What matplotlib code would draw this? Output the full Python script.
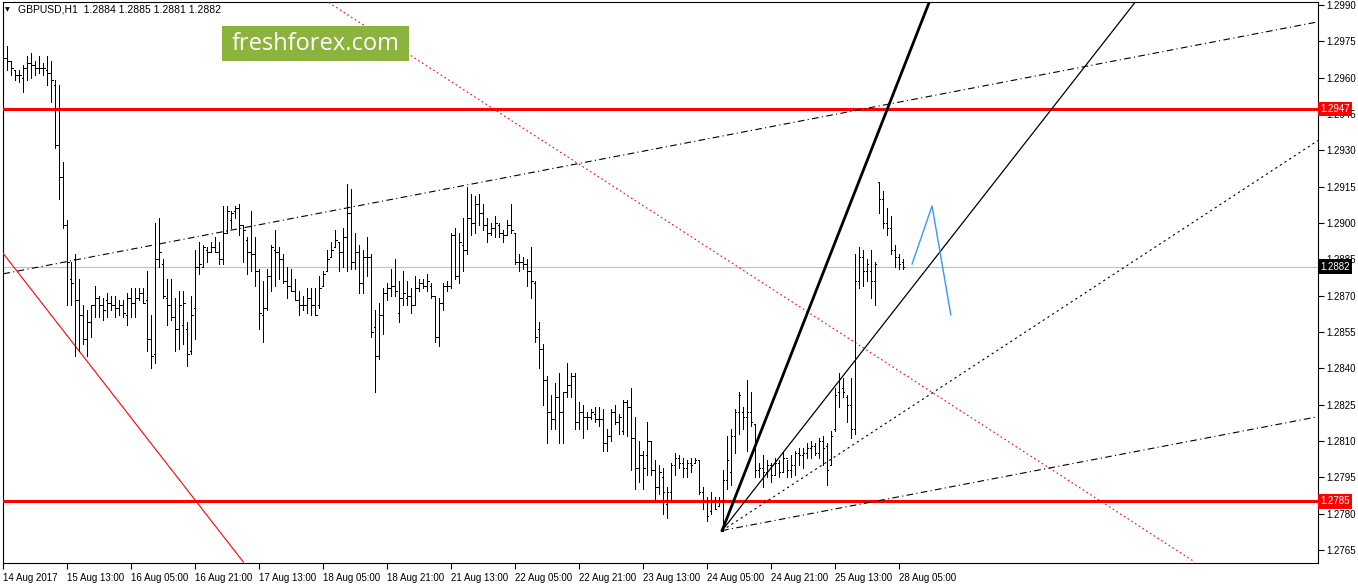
import numpy as np
import matplotlib
matplotlib.use("Agg")
import matplotlib.pyplot as plt
import matplotlib.transforms as mtransforms
from matplotlib.collections import LineCollection
from matplotlib.patches import Rectangle

plt.rcParams['font.family'] = ['Liberation Sans', 'DejaVu Sans']
plt.rcParams['font.size'] = 7

# GBPUSD H1 bars (index 0 = 14 Aug 2017)
bar_high = [
    1.2973, 1.2973, 1.2967, 1.2963, 1.2963, 1.2965, 1.2969, 1.2970, 1.2967, 1.2969,
    1.2966, 1.2969, 1.2967, 1.2959, 1.2957, 1.2925, 1.2901, 1.2884, 1.2887, 1.2877,
    1.2866, 1.2864, 1.2866, 1.2874, 1.2870, 1.2869, 1.2871, 1.2870, 1.2870, 1.2868,
    1.2868, 1.2871, 1.2873, 1.2873, 1.2873, 1.2873, 1.2880, 1.2862, 1.2900, 1.2902,
    1.2885, 1.2877, 1.2877, 1.2869, 1.2872, 1.2872, 1.2859, 1.2870, 1.2889, 1.2892,
    1.2891, 1.2890, 1.2892, 1.2894, 1.2892, 1.2907, 1.2907, 1.2905, 1.2907, 1.2908,
    1.2899, 1.2894, 1.2905, 1.2894, 1.2881, 1.2876, 1.2881, 1.2891, 1.2897, 1.2890,
    1.2887, 1.2882, 1.2881, 1.2877, 1.2872, 1.2870, 1.2873, 1.2873, 1.2873, 1.2878,
    1.2880, 1.2889, 1.2892, 1.2897, 1.2892, 1.2898, 1.2916, 1.2914, 1.2896, 1.2891,
    1.2889, 1.2894, 1.2887, 1.2864, 1.2867, 1.2873, 1.2875, 1.2881, 1.2885, 1.2876,
    1.2880, 1.2876, 1.2873, 1.2878, 1.2877, 1.2877, 1.2879, 1.2875, 1.2870, 1.2869,
    1.2875, 1.2876, 1.2896, 1.2898, 1.2896, 1.2902, 1.2915, 1.2912, 1.2911, 1.2912,
    1.2908, 1.2902, 1.2900, 1.2903, 1.2900, 1.2897, 1.2901, 1.2908, 1.2896, 1.2887,
    1.2886, 1.2885, 1.2890, 1.2876, 1.2859, 1.2850, 1.2837, 1.2829, 1.2834, 1.2838,
    1.2830, 1.2842, 1.2838, 1.2838, 1.2826, 1.2825, 1.2822, 1.2823, 1.2824, 1.2824,
    1.2823, 1.2815, 1.2823, 1.2825, 1.2821, 1.2827, 1.2827, 1.2832, 1.2820, 1.2810,
    1.2806, 1.2818, 1.2810, 1.2802, 1.2800, 1.2799, 1.2791, 1.2801, 1.2805, 1.2804,
    1.2803, 1.2802, 1.2803, 1.2803, 1.2802, 1.2791, 1.2787, 1.2789, 1.2787, 1.2787,
    1.2798, 1.2812, 1.2815, 1.2823, 1.2830, 1.2824, 1.2835, 1.2830, 1.2817, 1.2801,
    1.2804, 1.2802, 1.2801, 1.2803, 1.2802, 1.2806, 1.2802, 1.2804, 1.2806, 1.2807,
    1.2807, 1.2809, 1.2810, 1.2809, 1.2811, 1.2812, 1.2809, 1.2814, 1.2832, 1.2838,
    1.2836, 1.2829, 1.2836, 1.2887, 1.2890, 1.2889, 1.2885, 1.2889, 1.2884, 1.2917,
    1.2913, 1.2906, 1.2903, 1.2891, 1.2887, 1.2885,
]
bar_low = [
    1.2961, 1.2963, 1.2961, 1.2959, 1.2958, 1.2954, 1.2959, 1.2960, 1.2961, 1.2962,
    1.2961, 1.2957, 1.2950, 1.2931, 1.2910, 1.2898, 1.2866, 1.2866, 1.2845, 1.2847,
    1.2850, 1.2845, 1.2853, 1.2861, 1.2861, 1.2860, 1.2861, 1.2864, 1.2861, 1.2862,
    1.2861, 1.2858, 1.2861, 1.2861, 1.2868, 1.2867, 1.2847, 1.2840, 1.2842, 1.2882,
    1.2869, 1.2858, 1.2860, 1.2847, 1.2848, 1.2850, 1.2841, 1.2846, 1.2852, 1.2879,
    1.2882, 1.2884, 1.2888, 1.2888, 1.2883, 1.2883, 1.2896, 1.2898, 1.2902, 1.2895,
    1.2884, 1.2879, 1.2880, 1.2874, 1.2856, 1.2851, 1.2864, 1.2872, 1.2874, 1.2877,
    1.2875, 1.2869, 1.2872, 1.2868, 1.2862, 1.2864, 1.2863, 1.2862, 1.2862, 1.2865,
    1.2874, 1.2880, 1.2886, 1.2890, 1.2880, 1.2882, 1.2880, 1.2881, 1.2881, 1.2871,
    1.2871, 1.2878, 1.2853, 1.2830, 1.2844, 1.2854, 1.2868, 1.2870, 1.2870, 1.2859,
    1.2866, 1.2866, 1.2863, 1.2866, 1.2872, 1.2873, 1.2872, 1.2869, 1.2851, 1.2849,
    1.2864, 1.2872, 1.2873, 1.2877, 1.2875, 1.2880, 1.2887, 1.2895, 1.2896, 1.2899,
    1.2897, 1.2892, 1.2895, 1.2894, 1.2894, 1.2892, 1.2895, 1.2896, 1.2883, 1.2880,
    1.2881, 1.2874, 1.2869, 1.2851, 1.2840, 1.2825, 1.2809, 1.2815, 1.2815, 1.2809,
    1.2809, 1.2828, 1.2828, 1.2815, 1.2815, 1.2811, 1.2815, 1.2819, 1.2818, 1.2816,
    1.2806, 1.2806, 1.2810, 1.2817, 1.2813, 1.2813, 1.2812, 1.2798, 1.2790, 1.2793,
    1.2790, 1.2796, 1.2796, 1.2785, 1.2788, 1.2780, 1.2778, 1.2785, 1.2796, 1.2799,
    1.2795, 1.2795, 1.2797, 1.2801, 1.2788, 1.2782, 1.2777, 1.2780, 1.2782, 1.2783,
    1.2773, 1.2790, 1.2792, 1.2805, 1.2813, 1.2815, 1.2806, 1.2816, 1.2795, 1.2795,
    1.2791, 1.2795, 1.2793, 1.2796, 1.2795, 1.2797, 1.2795, 1.2795, 1.2796, 1.2800,
    1.2799, 1.2803, 1.2803, 1.2804, 1.2803, 1.2800, 1.2792, 1.2800, 1.2814, 1.2824,
    1.2828, 1.2818, 1.2811, 1.2813, 1.2873, 1.2874, 1.2876, 1.2869, 1.2866, 1.2904,
    1.2898, 1.2895, 1.2887, 1.2882, 1.2881, 1.2881,
]
bar_open = [
    1.2970, 1.2968, 1.2967, 1.2963, 1.2961, 1.2960, 1.2964, 1.2966, 1.2965, 1.2964,
    1.2964, 1.2963, 1.2962, 1.2957, 1.2932, 1.2919, 1.2899, 1.2877, 1.2885, 1.2868,
    1.2862, 1.2852, 1.2859, 1.2866, 1.2869, 1.2866, 1.2868, 1.2867, 1.2866, 1.2865,
    1.2866, 1.2862, 1.2869, 1.2867, 1.2869, 1.2871, 1.2868, 1.2852, 1.2846, 1.2885,
    1.2883, 1.2869, 1.2866, 1.2861, 1.2856, 1.2858, 1.2856, 1.2847, 1.2865, 1.2882,
    1.2882, 1.2889, 1.2888, 1.2890, 1.2888, 1.2885, 1.2896, 1.2901, 1.2905, 1.2906,
    1.2899, 1.2893, 1.2888, 1.2887, 1.2880, 1.2862, 1.2865, 1.2878, 1.2889, 1.2888,
    1.2885, 1.2876, 1.2874, 1.2872, 1.2868, 1.2866, 1.2866, 1.2869, 1.2866, 1.2866,
    1.2874, 1.2880, 1.2886, 1.2890, 1.2892, 1.2888, 1.2894, 1.2904, 1.2884, 1.2888,
    1.2875, 1.2886, 1.2886, 1.2857, 1.2845, 1.2862, 1.2871, 1.2873, 1.2874, 1.2863,
    1.2869, 1.2869, 1.2870, 1.2866, 1.2873, 1.2875, 1.2874, 1.2874, 1.2870, 1.2853,
    1.2867, 1.2874, 1.2874, 1.2895, 1.2878, 1.2891, 1.2889, 1.2902, 1.2900, 1.2908,
    1.2904, 1.2899, 1.2896, 1.2898, 1.2899, 1.2896, 1.2895, 1.2899, 1.2896, 1.2884,
    1.2884, 1.2883, 1.2880, 1.2875, 1.2856, 1.2848, 1.2835, 1.2822, 1.2819, 1.2828,
    1.2822, 1.2830, 1.2833, 1.2837, 1.2818, 1.2822, 1.2820, 1.2820, 1.2821, 1.2819,
    1.2819, 1.2809, 1.2812, 1.2822, 1.2818, 1.2814, 1.2826, 1.2824, 1.2811, 1.2799,
    1.2804, 1.2804, 1.2810, 1.2798, 1.2791, 1.2795, 1.2784, 1.2789, 1.2800, 1.2803,
    1.2801, 1.2799, 1.2801, 1.2801, 1.2802, 1.2789, 1.2785, 1.2781, 1.2785, 1.2783,
    1.2785, 1.2794, 1.2797, 1.2812, 1.2822, 1.2822, 1.2820, 1.2822, 1.2817, 1.2798,
    1.2799, 1.2797, 1.2800, 1.2796, 1.2801, 1.2797, 1.2803, 1.2798, 1.2800, 1.2805,
    1.2804, 1.2805, 1.2807, 1.2808, 1.2805, 1.2810, 1.2808, 1.2800, 1.2815, 1.2830,
    1.2832, 1.2828, 1.2825, 1.2815, 1.2876, 1.2886, 1.2880, 1.2880, 1.2876, 1.2917,
    1.2910, 1.2900, 1.2898, 1.2889, 1.2886, 1.2884,
]
bar_close = [
    1.2968, 1.2967, 1.2964, 1.2961, 1.2961, 1.2964, 1.2966, 1.2965, 1.2964, 1.2964,
    1.2964, 1.2962, 1.2959, 1.2932, 1.2919, 1.2899, 1.2884, 1.2875, 1.2868, 1.2862,
    1.2852, 1.2859, 1.2866, 1.2869, 1.2866, 1.2864, 1.2867, 1.2866, 1.2865, 1.2866,
    1.2863, 1.2869, 1.2867, 1.2869, 1.2871, 1.2867, 1.2852, 1.2845, 1.2885, 1.2888,
    1.2870, 1.2866, 1.2861, 1.2856, 1.2866, 1.2867, 1.2846, 1.2862, 1.2882, 1.2883,
    1.2890, 1.2888, 1.2890, 1.2888, 1.2885, 1.2896, 1.2905, 1.2904, 1.2906, 1.2899,
    1.2897, 1.2888, 1.2887, 1.2880, 1.2863, 1.2865, 1.2878, 1.2890, 1.2888, 1.2885,
    1.2876, 1.2874, 1.2872, 1.2868, 1.2866, 1.2866, 1.2869, 1.2866, 1.2862, 1.2873,
    1.2879, 1.2885, 1.2889, 1.2893, 1.2888, 1.2894, 1.2904, 1.2884, 1.2888, 1.2875,
    1.2886, 1.2886, 1.2855, 1.2845, 1.2862, 1.2871, 1.2873, 1.2874, 1.2872, 1.2869,
    1.2871, 1.2870, 1.2866, 1.2873, 1.2875, 1.2874, 1.2876, 1.2870, 1.2853, 1.2867,
    1.2874, 1.2874, 1.2895, 1.2878, 1.2892, 1.2889, 1.2902, 1.2900, 1.2908, 1.2904,
    1.2899, 1.2896, 1.2898, 1.2900, 1.2896, 1.2895, 1.2899, 1.2897, 1.2884, 1.2884,
    1.2883, 1.2880, 1.2876, 1.2853, 1.2848, 1.2835, 1.2822, 1.2819, 1.2828, 1.2822,
    1.2830, 1.2833, 1.2837, 1.2818, 1.2822, 1.2820, 1.2820, 1.2822, 1.2819, 1.2819,
    1.2809, 1.2812, 1.2822, 1.2818, 1.2820, 1.2826, 1.2824, 1.2811, 1.2799, 1.2804,
    1.2799, 1.2810, 1.2798, 1.2791, 1.2797, 1.2789, 1.2789, 1.2800, 1.2803, 1.2801,
    1.2799, 1.2801, 1.2800, 1.2802, 1.2789, 1.2785, 1.2779, 1.2785, 1.2782, 1.2785,
    1.2794, 1.2802, 1.2812, 1.2822, 1.2829, 1.2820, 1.2822, 1.2818, 1.2798, 1.2799,
    1.2797, 1.2800, 1.2796, 1.2801, 1.2797, 1.2803, 1.2798, 1.2800, 1.2805, 1.2804,
    1.2805, 1.2807, 1.2808, 1.2805, 1.2810, 1.2807, 1.2798, 1.2812, 1.2829, 1.2836,
    1.2830, 1.2825, 1.2815, 1.2876, 1.2886, 1.2880, 1.2883, 1.2876, 1.2883, 1.2910,
    1.2900, 1.2898, 1.2889, 1.2886, 1.2883, 1.2882,
]

x_tick_pos = list(range(0, 225, 16))
x_tick_labels = ["14 Aug 2017", "15 Aug 13:00", "16 Aug 05:00", "16 Aug 21:00",
                 "17 Aug 13:00", "18 Aug 05:00", "18 Aug 21:00", "21 Aug 13:00",
                 "22 Aug 05:00", "22 Aug 21:00", "23 Aug 13:00", "24 Aug 05:00",
                 "24 Aug 21:00", "25 Aug 13:00", "28 Aug 05:00"]
y_ticks = [1.2765 + 0.0015 * k for k in range(16)]

levels = [1.2947, 1.2785]
last_price = 1.2882
header = "GBPUSD,H1  1.2884 1.2885 1.2881 1.2882"

# analysis objects: (bar index, price) anchor points
pivot = (179.7, 1.2773)
fan_thick_end = (231.7, 1.2992)
fan_thin_end = (283.4, 1.2992)
fan_dotted_end = (328.7, 1.2934)
channel_top = [(0.0, 1.2879), (328.7, 1.2983)]
channel_bottom = [pivot, (328.7, 1.2820)]
red_trend = [(-0.8, 1.2889), (60.0, 1.2760)]
red_dotted = [(80.4, 1.2992), (297.9, 1.2760)]
forecast_x = [227.2, 232.2, 236.9]
forecast_y = [1.2883, 1.2907, 1.2862]

W, H = 1358, 584
fig = plt.figure(figsize=(W / 100, H / 100), dpi=100)
ax = fig.add_axes([3 / W, 1 - 563 / H, 1315 / W, 561 / H])
ax.set_xlim(-0.1, 328.7)
ax.set_ylim(1.27596, 1.29912)

# OHLC bars, 1px wide with short open/close ticks
idx = np.arange(len(bar_high))
segs = []
for i in idx:
    segs.append([(i, bar_low[i]), (i, bar_high[i])])
    segs.append([(i - 0.3, bar_open[i]), (i, bar_open[i])])
    segs.append([(i, bar_close[i]), (i + 0.3, bar_close[i])])
ax.add_collection(LineCollection(segs, colors='black', linewidths=0.5,
                                 antialiaseds=False, zorder=4))

# horizontal levels
for lv in levels:
    ax.axhline(lv, color='#ff0000', lw=2.2, zorder=3)
ax.axhline(last_price, color='#c0c0c0', lw=0.8, zorder=2)

# trend lines
ax.plot(*zip(*red_trend), color='#ff0000', lw=0.8, zorder=3)
ax.plot(*zip(*red_dotted), color='#ff0000', lw=0.8, ls=(0, (1.5, 2.5)), zorder=3)
ax.plot(*zip(*channel_top), color='black', lw=0.8, ls=(0, (6, 3, 1, 3)), zorder=3)
ax.plot(*zip(*channel_bottom), color='black', lw=0.8, ls=(0, (6, 3, 1, 3)), zorder=3)
ax.plot(*zip(pivot, fan_thick_end), color='black', lw=2.0, zorder=5)
ax.plot(*zip(pivot, fan_thin_end), color='black', lw=0.9, zorder=5)
ax.plot(*zip(pivot, fan_dotted_end), color='black', lw=0.8, ls=(0, (2, 3)), zorder=5)
ax.plot(forecast_x, forecast_y, color='#3399ff', lw=1.0, zorder=5)

# axes styling
for sp in ax.spines.values():
    sp.set_linewidth(0.8)
    sp.set_color('black')
ax.yaxis.tick_right()
ax.set_yticks(y_ticks)
ax.set_yticklabels([f"{v:.4f}" for v in y_ticks])
ax.set_xticks(x_tick_pos)
ax.set_xticklabels(x_tick_labels, ha='left')
ax.tick_params(axis='both', direction='out', length=4, width=0.8,
               labelsize=7, colors='black')
ax.tick_params(axis='y', pad=2)
ax.tick_params(axis='x', pad=3)

# price tags on the right scale (they sit over the nearby scale labels)
trans = mtransforms.blended_transform_factory(ax.transAxes, ax.transData)
for lv in levels:
    ax.text(1.0018, lv, f"{lv:.4f}", transform=trans, color='white', fontsize=7,
            va='center', ha='left', clip_on=False, zorder=10,
            bbox=dict(boxstyle='square,pad=0.25', fc='#ff0000', ec='none'))
ax.text(1.0018, last_price, f"{last_price:.4f}", transform=trans, color='white',
        fontsize=7, va='center', ha='left', clip_on=False, zorder=10,
        bbox=dict(boxstyle='square,pad=0.25', fc='black', ec='none'))

# header and watermark
fig.text(5 / W, 1 - 10 / H, "\u25bc", fontsize=4.5, va='center',
         family='DejaVu Sans')
fig.text(18 / W, 1 - 10 / H, header, fontsize=7.5, va='center')
fig.add_artist(Rectangle((222 / W, 1 - 61 / H), 187 / W, 35 / H,
                         transform=fig.transFigure, fc='#8db33f', ec='none',
                         zorder=6))
fig.text(315.5 / W, 1 - 44 / H, "freshforex.com", color='white', fontsize=17,
         family=['Open Sans', 'DejaVu Sans'], ha='center', va='center', zorder=7)

fig.savefig("out.png", dpi=100, facecolor='white')
